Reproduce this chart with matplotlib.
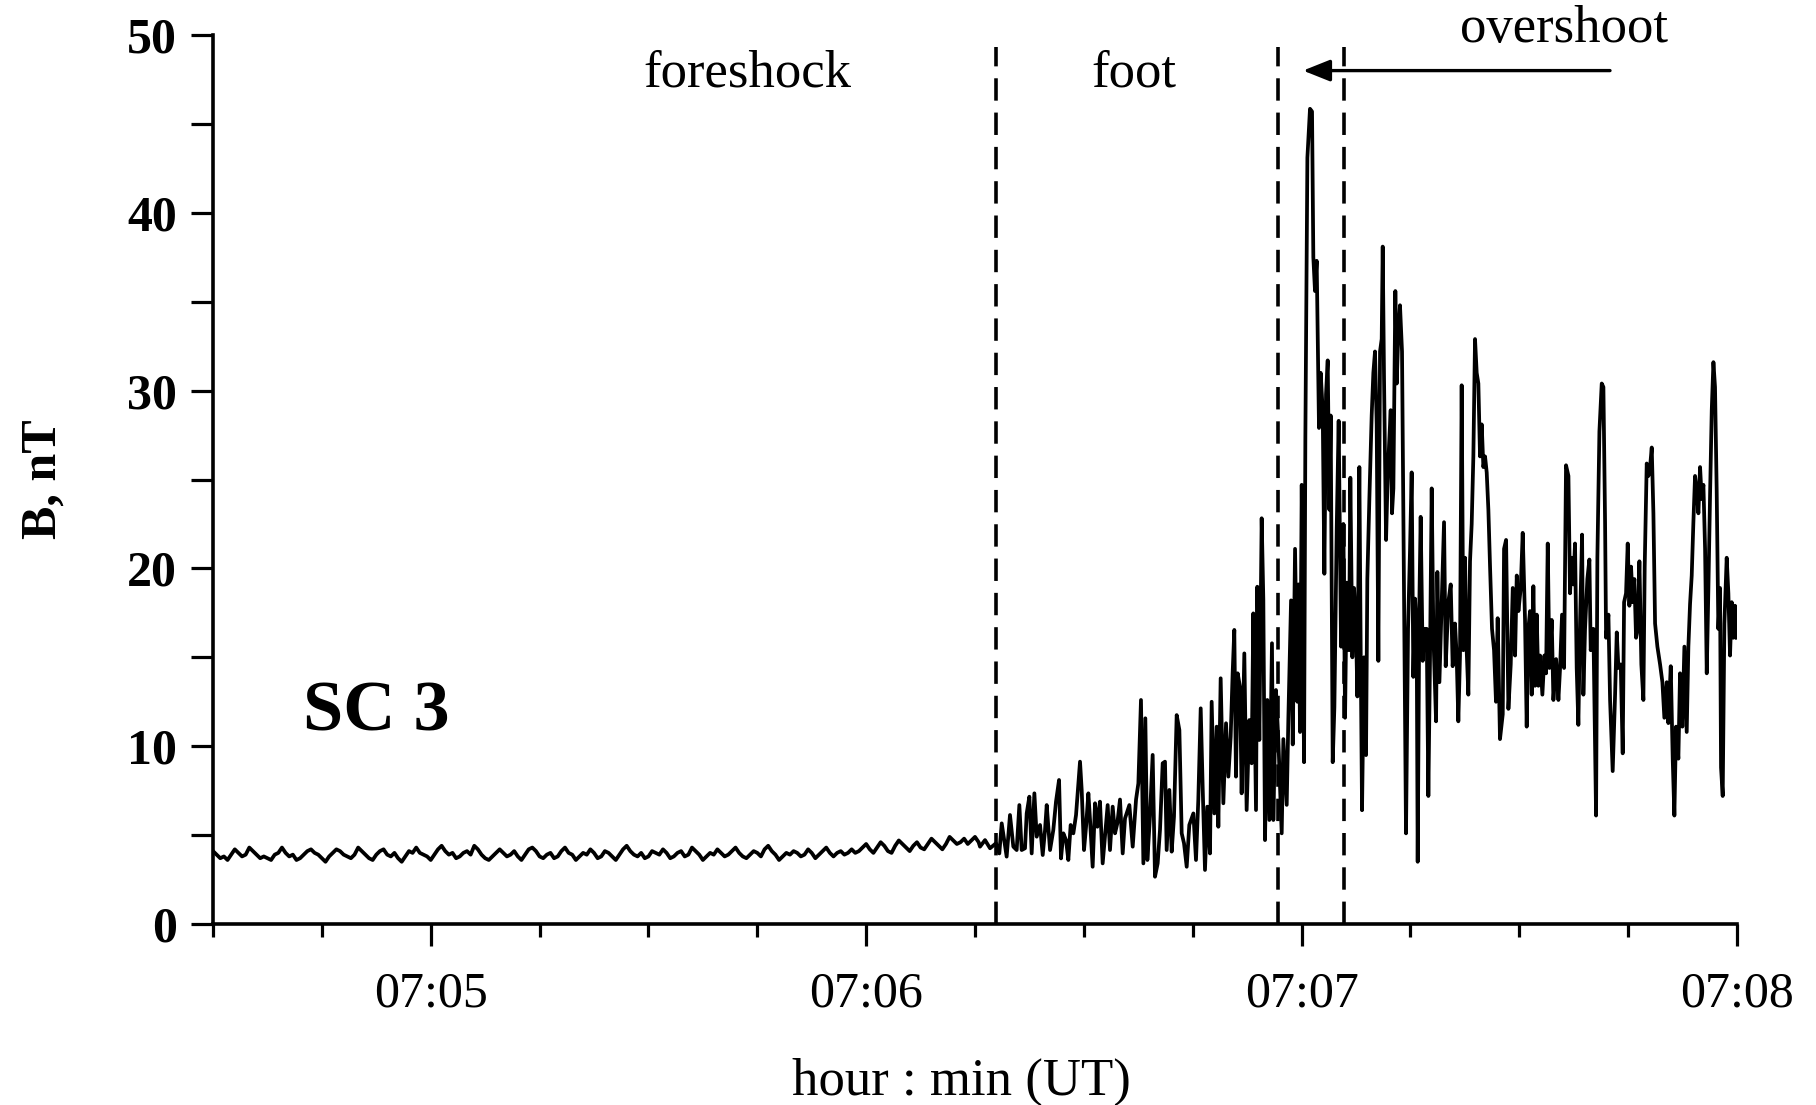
import numpy as np
import matplotlib.pyplot as plt
from matplotlib.ticker import MultipleLocator, FuncFormatter

plt.rcParams['font.family'] = ['Liberation Serif', 'DejaVu Serif']

T0 = 270.0  # 07:04:30, seconds after 07:00 UT

# quiet solar wind, one sample every 0.5 s from 07:04:30
quiet_dt = 0.5
quiet_b = [
    4.1, 3.9, 3.7, 3.8, 3.6, 3.9, 4.2, 4.0, 3.8, 3.9, 4.3, 4.1, 3.9, 3.7, 3.8, 3.7,
    3.6, 3.9, 4.0, 4.3, 4.0, 3.8, 3.9, 3.6, 3.7, 3.9, 4.1, 4.2, 4.0, 3.9, 3.7, 3.5,
    3.8, 4.0, 4.2, 4.1, 3.9, 3.8, 3.7, 3.9, 4.3, 4.1, 3.9, 3.7, 3.6, 3.9, 4.1, 4.2,
    3.9, 3.8, 4.0, 3.7, 3.5, 3.8, 4.1, 4.0, 4.3, 4.0, 3.9, 3.8, 3.6, 3.9, 4.2, 4.4,
    4.1, 3.9, 4.0, 3.7, 3.8, 4.0, 4.1, 3.9, 4.4, 4.2, 3.9, 3.7, 3.6, 3.8, 4.0, 4.2,
    4.0, 3.8, 3.9, 4.1, 3.8, 3.6, 3.9, 4.2, 4.3, 4.1, 3.8, 3.7, 3.9, 4.0, 3.7, 3.8,
    4.1, 4.3, 4.0, 3.9, 3.6, 3.8, 4.0, 3.9, 4.2, 4.0, 3.7, 3.8, 4.1, 4.0, 3.8, 3.6,
    3.9, 4.2, 4.4, 4.1, 3.9, 3.8, 4.0, 3.7, 3.8, 4.1, 4.0, 3.9, 4.2, 4.0, 3.7, 3.8,
    4.0, 4.1, 3.8, 3.9, 4.3, 4.1, 3.9, 3.6, 3.8, 4.0, 3.9, 4.2, 4.0, 3.8, 3.9, 4.1,
    4.3, 4.0, 3.8, 3.7, 3.9, 4.1, 4.0, 3.8, 4.2, 4.4, 4.1, 3.9, 3.6, 3.8, 4.0, 3.9,
    4.1, 4.0, 3.8, 3.9, 4.2, 4.0, 3.7, 3.9, 4.1, 4.3, 4.0, 3.8, 4.0, 4.1, 3.9, 4.0,
    4.2, 4.0, 4.1, 4.3, 4.5, 4.2, 4.0, 4.3, 4.6, 4.4, 4.1, 4.0, 4.4, 4.7, 4.5, 4.3,
    4.1, 4.4, 4.6, 4.3, 4.2, 4.5, 4.8, 4.6, 4.4, 4.2, 4.5, 4.9, 4.7, 4.5, 4.6, 4.8,
    4.5, 4.7, 4.9, 4.6,
]

# foot, ramp and overshoot: seconds after 07:04:30 and |B|
shock_t = [
    105.69, 106.38, 107.07, 107.89, 108.35, 108.68, 109.36, 109.82, 110.28, 110.74,
    111.11, 111.43, 111.89, 112.12, 112.49, 112.81, 113.18, 113.50, 113.96, 114.33,
    114.65, 114.88, 115.34, 115.79, 116.16, 116.58, 116.85, 117.17, 117.54, 117.86,
    118.18, 118.55, 118.92, 119.47, 119.70, 120.02, 120.30, 120.62, 120.85, 121.21,
    121.54, 121.86, 122.22, 122.59, 122.91, 123.28, 123.60, 123.97, 124.29, 124.61,
    124.98, 125.35, 125.67, 126.27, 126.73, 127.19, 127.51, 127.87, 128.20, 128.47,
    128.75, 129.11, 129.48, 129.80, 130.17, 130.49, 130.86, 131.18, 131.41, 131.78,
    132.10, 132.42, 132.79, 133.16, 133.48, 133.80, 134.17, 134.53, 135.09, 135.45,
    135.77, 136.10, 136.37, 136.69, 137.01, 137.38, 137.61, 137.98, 138.30, 138.53,
    138.85, 139.22, 139.59, 139.91, 140.23, 140.50, 140.73, 140.96, 141.19, 141.51,
    141.74, 142.11, 142.43, 142.80, 143.12, 143.35, 143.72, 143.90, 144.18, 144.50,
    144.73, 144.96, 145.28, 145.56, 145.92, 146.11, 146.47, 146.80,
    147.26, 147.49, 147.95, 148.18, 148.55, 148.78, 149.10, 149.42, 149.56, 149.79,
    150.02, 150.34, 150.52, 150.80, 151.16, 151.44, 151.62, 151.85, 152.08, 152.40,
    152.63, 152.91, 153.14, 153.37, 153.60, 153.83, 154.01, 154.29, 154.52, 154.84,
    155.11, 155.44, 155.76, 155.99, 156.22, 156.54, 156.72, 157.00, 157.23, 157.50,
    157.69, 157.96, 158.15, 158.33, 158.60, 158.88, 159.06, 159.34, 159.66, 159.89,
    160.12, 160.35, 160.58, 160.81, 161.04, 161.18, 161.36, 161.64, 161.82, 162.05,
    162.28, 162.46, 162.65, 162.92, 163.11, 163.34, 163.56, 163.84, 164.12, 164.39,
    164.67, 164.94, 165.17, 165.40, 165.63, 165.86, 166.00, 166.23, 166.41, 166.69,
    166.92, 167.24, 167.47, 167.70, 167.93, 168.16, 168.53, 168.71, 168.99, 169.31,
    169.63, 169.86, 170.22, 170.55, 170.82, 171.14, 171.37, 171.60, 171.83, 172.06,
    172.29, 172.52, 172.75, 172.98, 173.21, 173.44, 173.67, 173.90, 174.13, 174.36,
    174.59, 174.82, 175.05, 175.28, 175.51, 175.74, 175.97, 176.24, 176.52, 176.79,
    177.02, 177.34,
    177.72, 177.90, 178.18, 178.50, 178.82, 179.10, 179.42, 179.65, 179.88, 180.20,
    180.47, 180.79, 181.02, 181.25, 181.48, 181.71, 181.94, 182.17, 182.40, 182.63,
    182.86, 183.18, 183.46, 183.69, 183.92, 184.15, 184.47, 184.70, 185.07, 185.39,
    185.62, 185.89, 186.17, 186.44, 186.77, 186.99, 187.22, 187.45, 187.68, 187.91,
    188.14, 188.37, 188.65, 188.83, 189.06, 189.38, 189.66, 189.84, 190.21, 190.58,
    190.76, 191.04, 191.36, 191.59, 191.82, 191.96, 192.28, 192.51, 192.87, 193.20,
    193.43, 193.66, 193.98, 194.25, 194.44, 194.71, 194.94, 195.17, 195.40, 195.63,
    195.86, 196.09, 196.32, 196.55, 196.82, 197.10, 197.28, 197.56, 197.79, 198.02,
    198.25, 198.48, 198.71, 199.03, 199.40, 199.72, 199.99, 200.32, 200.54, 200.87,
    201.14, 201.37, 201.60, 201.92, 202.15, 202.47, 202.75, 203.07, 203.30, 203.53,
    203.76, 203.99, 204.22, 204.45, 204.68, 204.91, 205.14, 205.37, 205.60, 205.83,
    206.06, 206.29, 206.52, 206.75, 206.97, 207.20, 207.43, 207.66, 207.80, 208.03,
    208.26, 208.58, 208.81, 209.04, 209.27, 209.50, 209.73, 209.96,
]
shock_b = [
    4.35, 4.72, 4.26, 4.54, 3.97, 5.66, 3.79, 6.13, 4.35, 4.16,
    6.69, 4.16, 4.26, 6.22, 7.16, 3.97, 7.35, 4.91, 5.57, 3.88,
    5.29, 6.69, 4.16, 5.29, 6.88, 8.10, 3.69, 5.10, 4.72, 3.60,
    5.57, 5.10, 6.13, 9.13, 7.54, 4.16, 5.47, 7.35, 5.85, 3.22,
    6.79, 5.47, 6.88, 3.41, 4.91, 6.69, 4.16, 6.60, 5.10, 5.66,
    7.00, 3.97, 5.94, 6.69, 4.35, 7.00, 7.91, 12.60, 3.41, 11.57,
    3.60, 6.04, 9.51, 2.66, 3.41, 5.29, 9.04, 9.13, 4.16, 7.54,
    4.07, 6.04, 11.75, 10.91, 5.10, 4.54, 3.22, 5.57, 6.22, 3.60,
    7.00, 12.13, 7.72, 3.04, 6.60, 3.97, 12.50, 6.22, 11.10, 5.47,
    13.82, 6.79, 11.29, 8.29, 10.54, 14.10, 16.54, 8.29, 14.10, 13.35,
    7.35, 15.22, 6.41, 11.47, 9.04, 17.47, 6.41, 18.97, 10.35, 22.82,
    18.22, 4.72, 12.60, 5.85, 15.79, 5.85, 13.16, 10.35,
    5.1, 10.4, 6.7, 11.6, 18.2, 10.1, 21.1, 12.5, 19.1, 10.8,
    24.7, 9.1, 27.3, 43.1, 45.85, 45.7, 37.5, 35.6, 37.3, 27.9,
    31.0, 28.9, 19.7, 29.8, 31.7, 23.3, 28.6, 9.1, 12.2, 22.2,
    28.3, 15.6, 22.5, 11.6, 19.2, 15.4, 25.1, 15.0, 18.9, 16.6,
    12.8, 25.7, 15.1, 6.4, 15.0, 9.5, 19.4, 23.9, 28.6, 31.0,
    32.2, 28.1, 14.8, 32.2, 32.9, 38.1, 30.7, 21.6, 24.5, 26.9,
    28.9, 23.1, 24.5, 35.6, 30.4, 33.4, 34.8, 32.2, 18.1, 5.1,
    16.6, 21.0, 25.4, 13.9, 18.3, 16.6, 3.5, 18.1, 22.9, 14.8,
    16.6, 16.6, 7.2, 15.1, 24.5, 16.3, 11.4, 19.8, 13.6, 18.1,
    22.6, 14.5, 18.1, 19.1, 14.5, 16.9, 15.1, 11.4, 15.1, 30.3,
    15.4, 20.6, 15.4, 12.9, 20.4, 22.5, 26.3, 32.9, 31.0, 30.4,
    26.3, 28.1, 25.7, 26.3, 25.4, 23.3, 20.1, 16.6, 15.4, 12.5,
    17.2, 10.4,
    11.8, 21.1, 21.6, 12.1, 14.6, 18.9, 15.1, 19.6, 17.6, 18.9,
    22.0, 17.1, 11.1, 16.6, 17.6, 12.9, 19.0, 13.4, 17.4, 13.4,
    15.1, 12.9, 15.1, 14.1, 21.4, 14.4, 17.1, 12.6, 14.9, 12.6,
    14.4, 17.4, 14.4, 25.8, 25.2, 18.6, 20.6, 19.1, 21.4, 14.4,
    11.2, 16.9, 21.9, 12.9, 16.6, 19.4, 20.5, 15.4, 16.6, 6.1,
    20.6, 27.7, 30.4, 30.2, 22.6, 16.1, 17.4, 12.6, 8.6, 12.9,
    16.4, 14.4, 14.6, 9.6, 18.1, 18.6, 21.4, 17.9, 20.1, 18.1,
    19.4, 16.1, 16.6, 20.4, 14.6, 12.6, 20.1, 25.9, 25.2, 25.7,
    26.8, 23.1, 16.9, 15.6, 14.6, 13.6, 11.6, 13.6, 11.3, 14.5,
    9.3, 6.1, 11.1, 9.3, 14.1, 11.1, 15.6, 10.8, 15.6, 18.0,
    19.6, 22.6, 25.2, 24.4, 23.1, 25.7, 23.9, 24.7, 21.1, 14.1,
    18.9, 24.2, 28.9, 31.6, 30.2, 24.4, 16.6, 18.9, 8.8, 7.2,
    16.9, 20.6, 18.6, 15.1, 18.1, 16.1, 17.9, 16.1,
]

# region boundaries (s after 07:04:30) and labels
boundaries = [107.9, 146.8, 155.9]
region_names = ['foreshock', 'foot']
region_centers = [73.6, 126.9]

t = np.concatenate([T0 + np.arange(len(quiet_b)) * quiet_dt, T0 + np.array(shock_t)])
b = np.concatenate([quiet_b, shock_b])

fig = plt.figure(figsize=(18.16, 11.05), dpi=100)
ax = fig.add_axes([0.1173, 0.1638, 0.8392, 0.8045])

ax.plot(t, b, color='black', lw=2.7, solid_joinstyle='round')

for xb in boundaries:
    ax.vlines(T0 + xb, 0, 49.3, colors='black', lw=2.6, linestyles=(0, (6.2, 3.3)))

for name, xc in zip(region_names, region_centers):
    ax.text(T0 + xc, 47.1, name, fontsize=38, ha='center', va='baseline')
ax.text(T0 + 186.1, 49.6, 'overshoot', fontsize=38, ha='center', va='baseline')
ax.annotate('', xy=(T0 + 150.2, 48.0), xytext=(T0 + 192.5, 48.0),
            arrowprops=dict(arrowstyle='-|>,head_length=0.55,head_width=0.22',
                            color='black', lw=2.4, mutation_scale=30,
                            shrinkA=0, shrinkB=0))
ax.text(T0 + 12.4, 10.9, 'SC 3', fontsize=52, fontweight='bold', ha='left', va='baseline')

ax.set_xlim(T0, T0 + 210)
ax.set_ylim(0, 50)

ax.xaxis.set_major_locator(MultipleLocator(60))
ax.xaxis.set_minor_locator(MultipleLocator(15))
ax.xaxis.set_major_formatter(FuncFormatter(lambda s, _: f"07:{int(round(s)) // 60:02d}"))
ax.yaxis.set_major_locator(MultipleLocator(10))
ax.yaxis.set_minor_locator(MultipleLocator(5))

for side in ['top', 'right']:
    ax.spines[side].set_visible(False)
for side in ['left', 'bottom']:
    ax.spines[side].set_linewidth(2.6)

ax.tick_params(axis='x', which='major', direction='out', length=16, width=2.3, pad=18, labelsize=36)
ax.tick_params(axis='x', which='minor', direction='out', length=9, width=2.3)
ax.tick_params(axis='y', which='both', direction='out', length=16, width=2.3, pad=10, labelsize=36)
for lab in ax.get_yticklabels():
    lab.set_fontweight('bold')

ax.set_xlabel('hour : min (UT)', fontsize=38)
ax.xaxis.set_label_coords(0.491, -0.15)
ax.set_ylabel('B, nT', fontsize=36, fontweight='bold')
ax.yaxis.set_label_coords(-0.096, 0.5)

fig.savefig('out.png', dpi=100)
